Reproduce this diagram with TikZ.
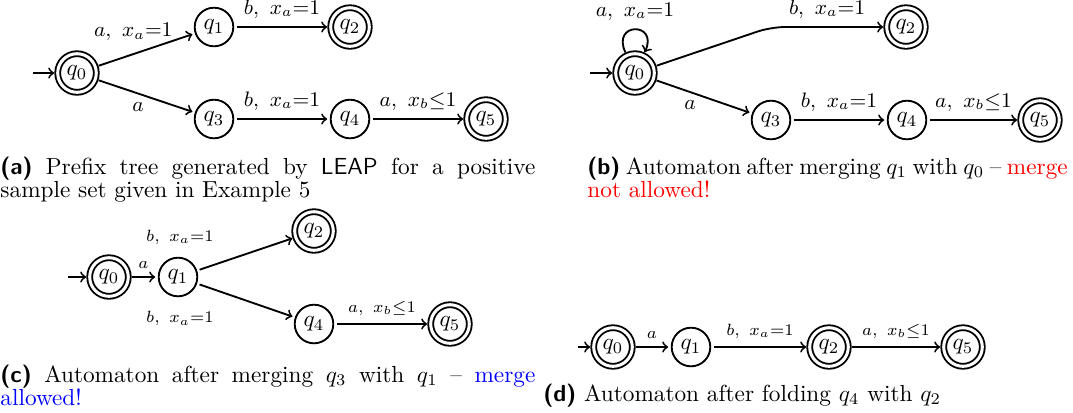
\documentclass[tikz,border=0pt]{standalone}
\usetikzlibrary{calc}

\newcommand{\capfont}{\fontsize{10pt}{10.2pt}\selectfont\hyphenpenalty=10000\relax}
\newcommand{\subl}[1]{\textsf{\textbf{(#1)}}}

\tikzset{
  qstate/.style={draw, circle, thick, minimum size=16.6pt, inner sep=0pt, outer sep=1.5pt},
  qfinal/.style={qstate, double, double distance=1.3pt},
  trans/.style={->, thick},
  big label/.style={font=\small},
  small label/.style={font=\scriptsize},
  captext/.style={anchor=base west, inner sep=0pt, text width=#1, align=justify, font=\capfont},
}

\begin{document}
\begin{tikzpicture}[x=0.43pt, y=0.43pt]
\useasboundingbox (0,0) rectangle (1073,-412);

% (a) prefix tree
\node[qfinal] (a0) at (77,-73) {$q_0$};
\node[qstate] (a1) at (214,-27) {$q_1$};
\node[qfinal] (a2) at (350,-27) {$q_2$};
\node[qstate] (a3) at (214,-119) {$q_3$};
\node[qstate] (a4) at (350,-119) {$q_4$};
\node[qfinal] (a5) at (486,-119) {$q_5$};
\coordinate (ain) at (33,-73);

\draw[trans] (ain) -- (a0);
\draw[trans] (a0) -- node[big label, above=2pt, pos=0.37] {$a,\ x_a{=}1$} (a1);
\draw[trans] (a1) -- node[big label, above] {$b,\ x_a{=}1$} (a2);
\draw[trans] (a0) -- node[big label, below, pos=0.42] {$a$} (a3);
\draw[trans] (a3) -- node[big label, above] {$b,\ x_a{=}1$} (a4);
\draw[trans] (a4) -- node[big label, above] {$a,\ x_b{\leq}1$} (a5);

\node[captext=230pt] (capa) at (0,-174) {\subl{a} Prefix tree generated by \textsf{LEAP} for a positive sample set given in Example 5};

% (b) merging q1 with q0
\node[qfinal] (b0) at (635,-73) {$q_0$};
\node[qfinal] (b2) at (906,-27) {$q_2$};
\node[qstate] (b3) at (771,-120) {$q_3$};
\node[qstate] (b4) at (907,-120) {$q_4$};
\node[qfinal] (b5) at (1040,-120) {$q_5$};
\coordinate (bin) at (590,-73);

\draw[trans] (bin) -- (b0);
\draw[trans] (b0) to[out=115, in=65, looseness=4.5] node[big label, above] {$a,\ x_a{=}1$} (b0);
\draw[trans, rounded corners=6pt] (b0) -- (b3 |- b2) -- node[big label, above] {$b,\ x_a{=}1$} (b2);
\draw[trans] (b0) -- node[big label, below, pos=0.36] {$a$} (b3);
\draw[trans] (b3) -- node[big label, above] {$b,\ x_a{=}1$} (b4);
\draw[trans] (b4) -- node[big label, above] {$a,\ x_b{\leq}1$} (b5);

\node[captext=206.5pt] (capb) at (587,-174) {\subl{b} Automaton after merging $q_1$ with $q_0$ -- \textcolor{red}{merge}\linebreak \textcolor{red}{not allowed!}};

% (c) merging q3 with q1
\node[qfinal] (c0) at (109,-277) {$q_0$};
\node[qstate] (c1) at (178,-277) {$q_1$};
\node[qfinal] (c2) at (314,-231) {$q_2$};
\node[qstate] (c4) at (314,-324) {$q_4$};
\node[qfinal] (c5) at (450,-324) {$q_5$};
\coordinate (cin) at (68,-277);

\draw[trans] (cin) -- (c0);
\draw[trans] (c0) -- node[small label, above] {$a$} (c1);
\draw[trans] (c1) -- node[small label, above left, pos=0.245, yshift=3.7pt] {$b,\ x_a{=}1$} (c2);
\draw[trans] (c1) -- node[small label, below left, pos=0.245, yshift=-4.5pt] {$b,\ x_a{=}1$} (c4);
\draw[trans] (c4) -- node[small label, above] {$a,\ x_b{\leq}1$} (c5);

\node[captext=230pt] (capc) at (0,-382) {\subl{c} Automaton after merging $q_3$ with $q_1$ -- \textcolor{blue}{merge allowed!}};

% (d) folding q4 with q2
\node[qfinal] (d0) at (613,-347) {$q_0$};
\node[qstate] (d1) at (691,-347) {$q_1$};
\node[qfinal] (d2) at (829,-347) {$q_2$};
\node[qfinal] (d5) at (963,-347) {$q_5$};
\coordinate (din) at (578,-347);

\draw[trans] (din) -- (d0);
\draw[trans] (d0) -- node[small label, above] {$a$} (d1);
\draw[trans] (d1) -- node[small label, above] {$b,\ x_a{=}1$} (d2);
\draw[trans] (d2) -- node[small label, above] {$a,\ x_b{\leq}1$} (d5);

\node[captext=300pt] (capd) at (543,-401) {\subl{d} Automaton after folding $q_4$ with $q_2$};
\end{tikzpicture}
\end{document}
